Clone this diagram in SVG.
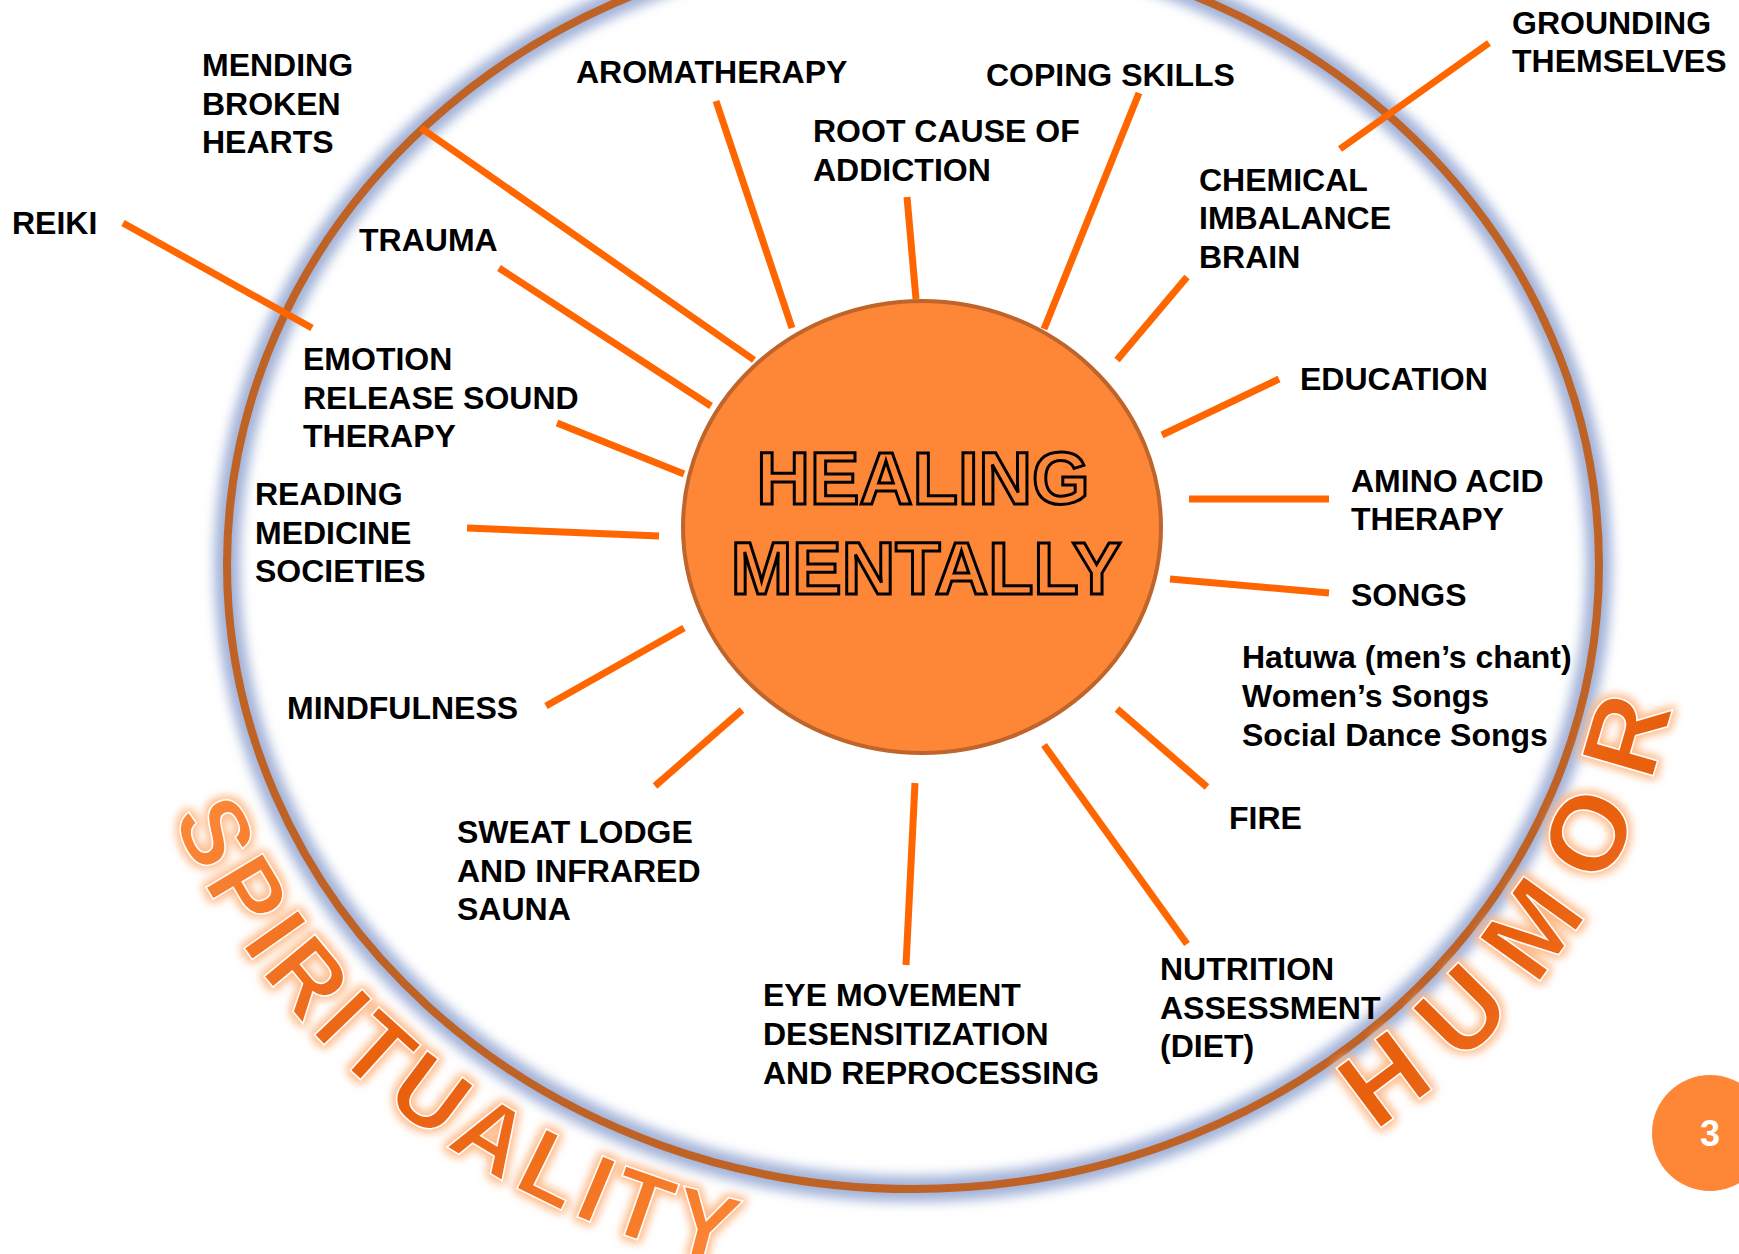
<svg xmlns="http://www.w3.org/2000/svg" width="1739" height="1254" viewBox="0 0 1739 1254">
  <defs>
    <style>
      .lbl { font-family: "Liberation Sans", Arial, sans-serif; font-weight: bold; font-size: 32px; fill: #000; }
      .conn line { stroke: #FF6600; stroke-width: 7; stroke-linecap: butt; }
      .title { font-family: "Liberation Sans", Arial, sans-serif; font-weight: bold; font-size: 74px; fill: #FD8637; stroke: #000; stroke-width: 3; text-anchor: middle; }
      .arc { font-family: "Liberation Sans", Arial, sans-serif; font-weight: bold; fill: url(#arcGrad); stroke: #FFFFFF; stroke-width: 1.5; }
    </style>
    <filter id="ringGlow" x="-10%" y="-10%" width="120%" height="120%">
      <feGaussianBlur stdDeviation="6"/>
    </filter>
    <filter id="textGlow" x="-20%" y="-20%" width="140%" height="140%">
      <feMorphology in="SourceAlpha" operator="dilate" radius="3" result="d"/>
      <feGaussianBlur in="d" stdDeviation="4" result="b"/>
      <feFlood flood-color="#FFB27A" flood-opacity="0.9"/>
      <feComposite in2="b" operator="in" result="glow"/>
      <feMerge>
        <feMergeNode in="glow"/>
        <feMergeNode in="SourceGraphic"/>
      </feMerge>
    </filter>
    <linearGradient id="arcGrad" x1="0" y1="0" x2="1" y2="1">
      <stop offset="0" stop-color="#FF8E3E"/>
      <stop offset="0.5" stop-color="#E85E0C"/>
      <stop offset="1" stop-color="#FF8A38"/>
    </linearGradient>
    <path id="arcPath" d="M 123 565 A 790 720 0 0 0 1703 565" fill="none"/>
    <path id="arcPath2" d="M 138 565 A 775 705 0 0 0 1688 565" fill="none"/>
  </defs>

  <rect x="0" y="0" width="1739" height="1254" fill="#FFFFFF"/>

  <g id="ring">
    <ellipse cx="913" cy="565" rx="686" ry="624" fill="none" stroke="#A3B2D8" stroke-width="26" filter="url(#ringGlow)"/>
    <ellipse cx="913" cy="565" rx="686" ry="624" fill="none" stroke="#BE6226" stroke-width="8"/>
  </g>

  <g id="arc-labels" filter="url(#textGlow)">
    <text id="spirituality" class="arc" font-size="96"><textPath href="#arcPath" startOffset="258" textLength="742" lengthAdjust="spacing">SPIRITUALITY</textPath></text>
    <text id="humor" class="arc" font-size="108"><textPath href="#arcPath2" startOffset="1652" textLength="530" lengthAdjust="spacing">HUMOR</textPath></text>
  </g>

  <g id="connectors" class="conn">
    <line x1="123" y1="223" x2="312" y2="328"/>
    <line x1="421" y1="128" x2="754" y2="360"/>
    <line x1="499" y1="268" x2="711" y2="406"/>
    <line x1="557" y1="423" x2="684" y2="474"/>
    <line x1="467" y1="528" x2="659" y2="536"/>
    <line x1="546" y1="706" x2="684" y2="628"/>
    <line x1="655" y1="786" x2="742" y2="710"/>
    <line x1="906" y1="965" x2="915" y2="783"/>
    <line x1="1187" y1="944" x2="1044" y2="745"/>
    <line x1="1207" y1="787" x2="1117" y2="709"/>
    <line x1="1170" y1="579" x2="1329" y2="593"/>
    <line x1="1189" y1="499" x2="1329" y2="499"/>
    <line x1="1162" y1="435" x2="1279" y2="379"/>
    <line x1="1117" y1="360" x2="1187" y2="277"/>
    <line x1="1340" y1="149" x2="1489" y2="43"/>
    <line x1="1044" y1="329" x2="1139" y2="93"/>
    <line x1="916" y1="299" x2="907" y2="197"/>
    <line x1="792" y1="328" x2="716" y2="101"/>
  </g>

  <g id="center">
    <ellipse cx="922" cy="527" rx="239" ry="226" fill="#FD8637" stroke="#BF652B" stroke-width="4"/>
    <text class="title" x="923" y="504">HEALING</text>
    <text class="title" x="926" y="594">MENTALLY</text>
  </g>

  <g id="n-mending"><text class="lbl"><tspan x="202" y="76">MENDING</tspan><tspan x="202" y="115">BROKEN</tspan><tspan x="202" y="153">HEARTS</tspan></text></g>
  <g id="n-aromatherapy"><text class="lbl" x="576" y="83">AROMATHERAPY</text></g>
  <g id="n-rootcause"><text class="lbl"><tspan x="813" y="142">ROOT CAUSE OF</tspan><tspan x="813" y="181">ADDICTION</tspan></text></g>
  <g id="n-coping"><text class="lbl" x="986" y="86">COPING SKILLS</text></g>
  <g id="n-grounding"><text class="lbl"><tspan x="1512" y="34">GROUNDING</tspan><tspan x="1512" y="72">THEMSELVES</tspan></text></g>
  <g id="n-chemical"><text class="lbl"><tspan x="1199" y="191">CHEMICAL</tspan><tspan x="1199" y="229">IMBALANCE</tspan><tspan x="1199" y="268">BRAIN</tspan></text></g>
  <g id="n-reiki"><text class="lbl" x="12" y="234">REIKI</text></g>
  <g id="n-trauma"><text class="lbl" x="359" y="251">TRAUMA</text></g>
  <g id="n-emotion"><text class="lbl"><tspan x="303" y="370">EMOTION</tspan><tspan x="303" y="409">RELEASE SOUND</tspan><tspan x="303" y="447">THERAPY</tspan></text></g>
  <g id="n-education"><text class="lbl" x="1300" y="390">EDUCATION</text></g>
  <g id="n-reading"><text class="lbl"><tspan x="255" y="505">READING</tspan><tspan x="255" y="544">MEDICINE</tspan><tspan x="255" y="582">SOCIETIES</tspan></text></g>
  <g id="n-amino"><text class="lbl"><tspan x="1351" y="492">AMINO ACID</tspan><tspan x="1351" y="530">THERAPY</tspan></text></g>
  <g id="n-songs"><text class="lbl" x="1351" y="606">SONGS</text></g>
  <g id="n-songlist"><text class="lbl"><tspan x="1242" y="668">Hatuwa (men’s chant)</tspan><tspan x="1242" y="707">Women’s Songs</tspan><tspan x="1242" y="746">Social Dance Songs</tspan></text></g>
  <g id="n-mindfulness"><text class="lbl" x="287" y="719">MINDFULNESS</text></g>
  <g id="n-fire"><text class="lbl" x="1229" y="829">FIRE</text></g>
  <g id="n-sweat"><text class="lbl"><tspan x="457" y="843">SWEAT LODGE</tspan><tspan x="457" y="882">AND INFRARED</tspan><tspan x="457" y="920">SAUNA</tspan></text></g>
  <g id="n-nutrition"><text class="lbl"><tspan x="1160" y="980">NUTRITION</tspan><tspan x="1160" y="1019">ASSESSMENT</tspan><tspan x="1160" y="1057">(DIET)</tspan></text></g>
  <g id="n-eye"><text class="lbl"><tspan x="763" y="1006">EYE MOVEMENT</tspan><tspan x="763" y="1045">DESENSITIZATION</tspan><tspan x="763" y="1084">AND REPROCESSING</tspan></text></g>

  <g id="page-number">
    <circle cx="1710" cy="1133" r="58" fill="#FD8637"/>
    <text x="1710" y="1146" font-family="Liberation Sans, Arial, sans-serif" font-weight="bold" font-size="36" fill="#FFFFFF" text-anchor="middle">3</text>
  </g>
</svg>
